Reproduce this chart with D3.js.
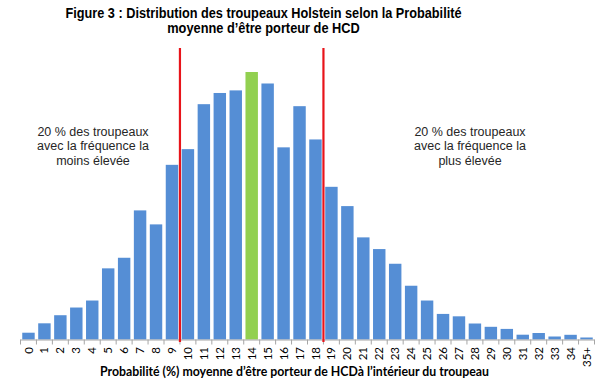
<!DOCTYPE html>
<html>
<head>
<meta charset="utf-8">
<script src="https://cdn.jsdelivr.net/npm/d3@7/dist/d3.min.js"></script>
<style>
	body { margin: 0; background: white; }
	svg { display: block; }
</style>
</head>
<body>
<div id="chart"></div>
<script>
// Categories: mean probability (%) of carrying HCD within the herd
const categories = ["0", "1", "2", "3", "4", "5", "6", "7", "8", "9", "10", "11", "12", "13", "14", "15", "16", "17", "18", "19", "20", "21", "22", "23", "24", "25", "26", "27", "28", "29", "30", "31", "32", "33", "34", "35+"]

// Relative number of herds per class (no y axis shown)
const herds = [6.8, 16.2, 24.3, 32, 39, 71.2, 81.8, 129.2, 115.2, 174.8, 190.5, 235.5, 246.7, 249.3, 267.7, 256.2, 192.3, 233.5, 200.2, 152.8, 133.5, 102.2, 90.5, 75.8, 53.8, 39, 25.6, 23.2, 16, 12.7, 10.6, 4.8, 6.5, 3, 4.7, 2]

// Highlighted (median) class and the 20 % cut-off classes
const highlight = "14"
const cutoffs = ["10", "19"]

const titleLines = [
	"Figure 3 : Distribution des troupeaux Holstein selon la Probabilité",
	"moyenne d’être porteur de HCD",
]
const leftNote = ["20 % des troupeaux", "avec la fréquence la", "moins élevée"]
const rightNote = ["20 % des troupeaux", "avec la fréquence la", "plus élevée"]
const xTitle = "Probabilité (%) moyenne d’être porteur de HCDà l’intérieur du troupeau"

const width = 603
const height = 385
const margin = { top: 72, right: 8.5, bottom: 45.5, left: 20.5 }

const svg = d3
	.select("#chart")
	.append("svg")
	.attr("width", width)
	.attr("height", height)

const x = d3
	.scaleBand()
	.domain(categories)
	.range([margin.left, width - margin.right])
	.paddingInner(0.22)
	.paddingOuter(0.11)

const baseline = height - margin.bottom
const y = d3
	.scaleLinear()
	.domain([0, d3.max(herds)])
	.range([baseline, margin.top])

const step = x.step()
const bandLeft = (c) => x(c) - x.paddingInner() * step / 2

// Title (original font is narrower than Arial, so squeeze to the measured widths)
const titleWidths = [396, 192.5]
svg.append("g")
	.selectAll("text")
	.data(titleLines)
	.join("text")
	.attr("x", 263.5)
	.attr("y", (d, i) => 17.5 + i * 15.2)
	.attr("text-anchor", "middle")
	.attr("textLength", (d, i) => titleWidths[i])
	.attr("lengthAdjust", "spacingAndGlyphs")
	.style("font-family", "Arial, 'Liberation Sans', sans-serif")
	.style("font-weight", "bold")
	.style("font-size", "14px")
	.style("fill", "#000")
	.text((d) => d)

// Bars
svg.append("g")
	.selectAll("rect")
	.data(categories)
	.join("rect")
	.attr("x", (d) => x(d))
	.attr("width", x.bandwidth())
	.attr("y", (d, i) => y(herds[i]))
	.attr("height", (d, i) => baseline - y(herds[i]))
	.attr("fill", (d) => (d === highlight ? "#92D050" : "#558ED5"))

// Axis line and ticks between categories
const axis = svg.append("g")
axis.append("line")
	.attr("x1", margin.left)
	.attr("x2", width - margin.right)
	.attr("y1", baseline + 0.5)
	.attr("y2", baseline + 0.5)
	.attr("stroke", "#a6a6a6")
	.attr("stroke-width", 1)

const tickPos = categories.map(bandLeft).concat([width - margin.right])
axis.selectAll(".tick")
	.data(tickPos)
	.join("line")
	.attr("class", "tick")
	.attr("x1", (d) => d)
	.attr("x2", (d) => d)
	.attr("y1", baseline)
	.attr("y2", baseline + 5)
	.attr("stroke", "#a6a6a6")

axis.selectAll(".lbl")
	.data(categories)
	.join("text")
	.attr("class", "lbl")
	.attr("transform", (d) => `translate(${x(d) + x.bandwidth() / 2},${baseline + 7.5}) rotate(-90)`)
	.attr("text-anchor", "end")
	.attr("dy", "0.35em")
	.style("font-family", "Lato, 'Open Sans', sans-serif")
	.style("font-size", "11.5px")
	.style("fill", "#000")
	.text((d) => d)

// Red cut-off lines
svg.append("g")
	.selectAll("line")
	.data(cutoffs)
	.join("line")
	.attr("x1", (d) => bandLeft(d))
	.attr("x2", (d) => bandLeft(d))
	.attr("y1", 48)
	.attr("y2", baseline + 2.5)
	.attr("stroke", "#e8141a")
	.attr("stroke-width", 2.2)

// Side notes
const note = (lines, cx) => {
	svg.append("text")
		.attr("x", cx)
		.attr("y", 135.5)
		.attr("text-anchor", "middle")
		.style("font-family", "Arial, 'Liberation Sans', sans-serif")
		.style("font-size", "12.5px")
		.style("fill", "#262626")
		.selectAll("tspan")
		.data(lines)
		.join("tspan")
		.attr("x", cx)
		.attr("dy", (d, i) => (i === 0 ? 0 : 14.5))
		.text((d) => d)
}
note(leftNote, 93)
note(rightNote, 470)

// X axis title
svg.append("text")
	.attr("x", 294.5)
	.attr("y", 376)
	.attr("text-anchor", "middle")
	.attr("textLength", 389)
	.attr("lengthAdjust", "spacingAndGlyphs")
	.style("font-family", "Lato, 'Open Sans', sans-serif")
	.style("font-weight", "bold")
	.style("font-size", "12.5px")
	.style("fill", "#000")
	.text(xTitle)
</script>
</body>
</html>
